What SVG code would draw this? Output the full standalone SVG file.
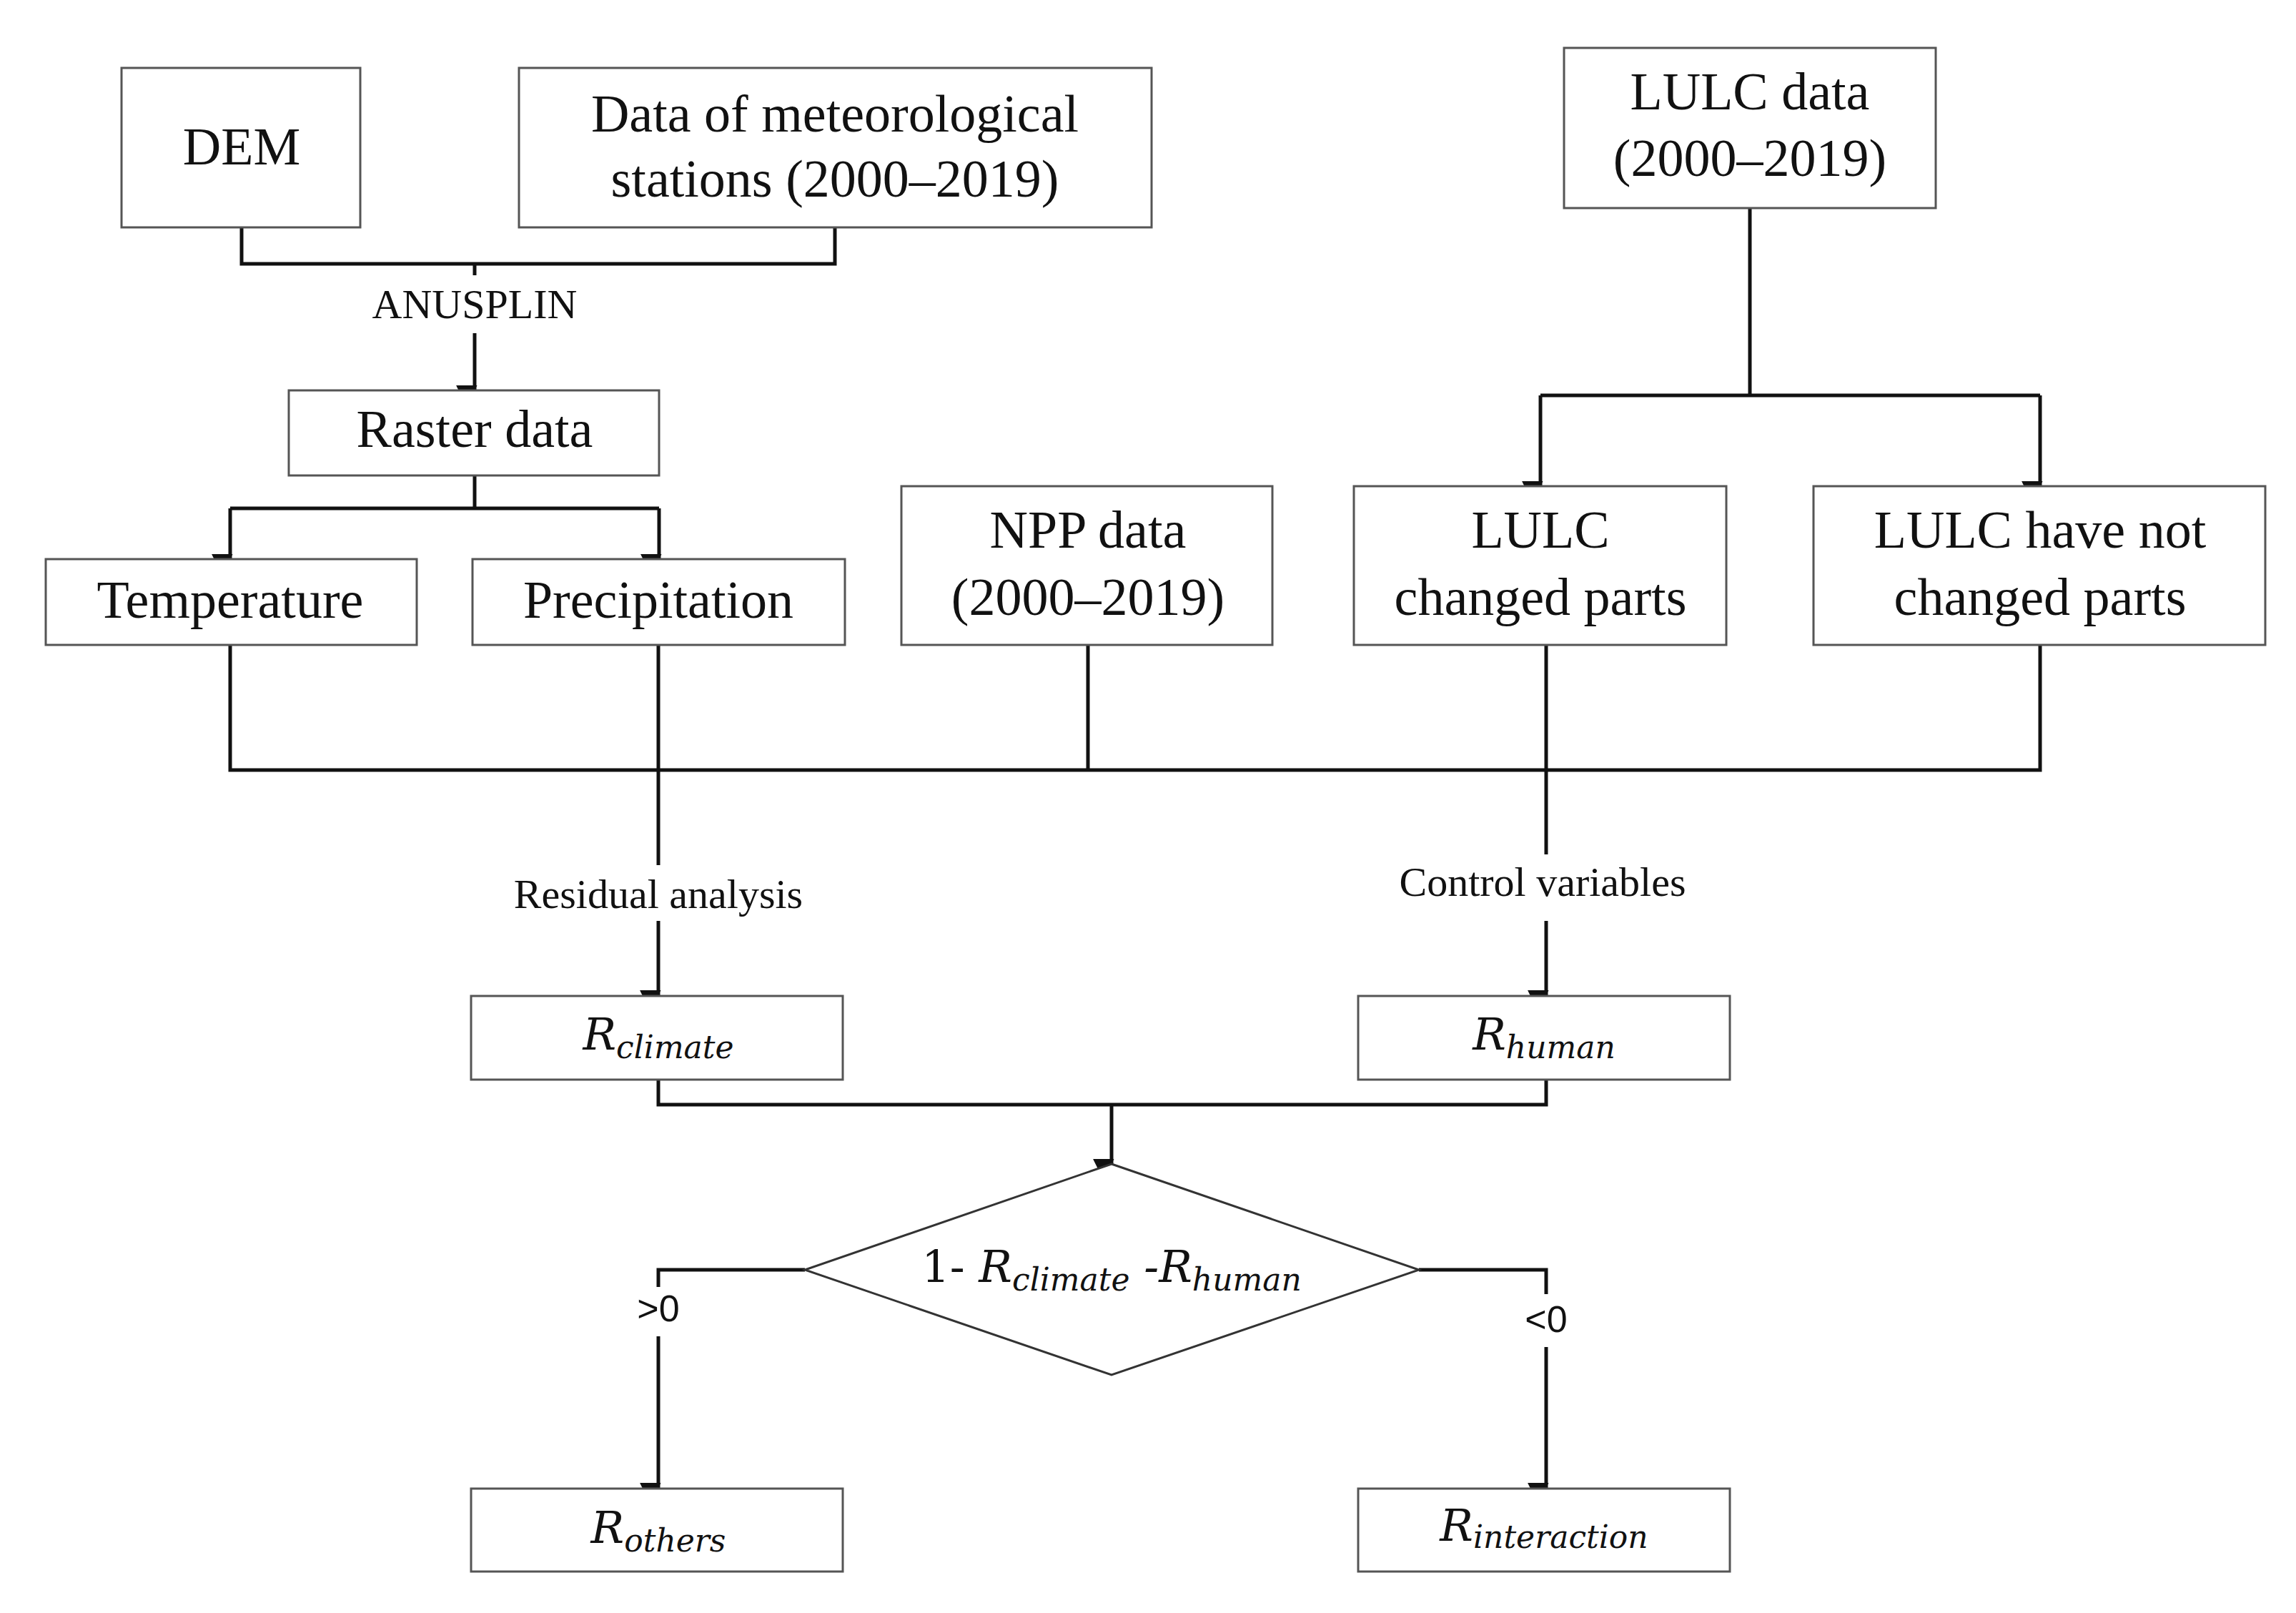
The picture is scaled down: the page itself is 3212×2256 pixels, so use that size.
<svg xmlns="http://www.w3.org/2000/svg" width="3212" height="2256" viewBox="0 0 3212 2256">
<style>
.box{fill:#fff;stroke:#555;stroke-width:3}
.t{font-family:"Liberation Serif",serif;font-size:74px;text-anchor:middle;fill:#111}
.s{font-family:"Liberation Serif",serif;font-size:58px;text-anchor:middle;fill:#111}
.m{font-family:"DejaVu Serif",serif;font-style:italic;font-size:62px;text-anchor:middle;fill:#111}
.sub{font-size:44px}
.c{fill:none;stroke:#111;stroke-width:5}
.g{font-family:"Liberation Sans",sans-serif;font-size:52px;text-anchor:middle;fill:#111}
</style>
<defs><marker id="a" viewBox="0 0 10 10" refX="10" refY="5" markerWidth="7" markerHeight="7" markerUnits="userSpaceOnUse" orient="auto" style="overflow:visible"><path d="M0,0L10,5L0,10z" fill="#111" transform="scale(4.2) translate(-0,-0)"/></marker></defs>
<g id="connectors" class="c">
<path d="M338,318V369H1168V318M664,369V385"/>
<path d="M664,466V546" marker-end="url(#a)"/>
<path d="M664,665V711M322,711H922"/>
<path d="M322,711V782" marker-end="url(#a)"/>
<path d="M922,711V782" marker-end="url(#a)"/>
<path d="M2448,291V553M2155,553H2854"/>
<path d="M2155,553V680" marker-end="url(#a)"/>
<path d="M2854,553V680" marker-end="url(#a)"/>
<path d="M322,902V1077H2854V902M1522,902V1077M921,902V1210M2163,902V1195"/>
<path d="M921,1288V1392" marker-end="url(#a)"/>
<path d="M2163,1288V1392" marker-end="url(#a)"/>
<path d="M921,1510V1545H2163V1510M1555,1545V1628" marker-end="url(#a)"/>
<path d="M1126,1776H921V1800M1985,1776H2163V1810"/>
<path d="M921,1869V2081" marker-end="url(#a)"/>
<path d="M2163,1884V2081" marker-end="url(#a)"/>
</g>
<g id="dem"><rect class="box" x="170" y="95" width="334" height="223"/><text class="t" x="338" y="230">DEM</text></g>
<g id="met"><rect class="box" x="726" y="95" width="885" height="223"/><text class="t" x="1168" y="184">Data of meteorological</text><text class="t" x="1168" y="275">stations (2000–2019)</text></g>
<text class="s" x="664" y="445">ANUSPLIN</text>
<g id="raster"><rect class="box" x="404" y="546" width="518" height="119"/><text class="t" x="664" y="625">Raster data</text></g>
<g id="temp"><rect class="box" x="64" y="782" width="519" height="120"/><text class="t" x="322" y="864">Temperature</text></g>
<g id="precip"><rect class="box" x="661" y="782" width="521" height="120"/><text class="t" x="921" y="864">Precipitation</text></g>
<g id="npp"><rect class="box" x="1261" y="680" width="519" height="222"/><text class="t" x="1522" y="766">NPP data</text><text class="t" x="1522" y="860">(2000–2019)</text></g>
<g id="lulc"><rect class="box" x="2188" y="67" width="520" height="224"/><text class="t" x="2448" y="153">LULC data</text><text class="t" x="2448" y="246">(2000–2019)</text></g>
<g id="changed"><rect class="box" x="1894" y="680" width="521" height="222"/><text class="t" x="2155" y="766">LULC</text><text class="t" x="2155" y="860">changed parts</text></g>
<g id="notchanged"><rect class="box" x="2537" y="680" width="632" height="222"/><text class="t" x="2854" y="766">LULC  have not</text><text class="t" x="2854" y="860">changed parts</text></g>
<text class="s" x="921" y="1270">Residual analysis</text>
<text class="s" x="2158" y="1253">Control variables</text>
<g id="rclimate"><rect class="box" x="659" y="1393" width="520" height="117"/><text class="m" x="921" y="1468">R<tspan class="sub" dy="12">climate</tspan></text></g>
<g id="rhuman"><rect class="box" x="1900" y="1393" width="520" height="117"/><text class="m" x="2160" y="1468">R<tspan class="sub" dy="12">human</tspan></text></g>
<g id="diamond"><path d="M1555,1628L1985,1776L1555,1923L1126,1776Z" fill="#fff" stroke="#333" stroke-width="3"/><text class="m" x="1555" y="1793"><tspan font-style="normal">1- </tspan>R<tspan class="sub" dy="12">climate</tspan><tspan dy="-12"> -R</tspan><tspan class="sub" dy="12">human</tspan></text></g>
<text class="g" x="921" y="1848">&gt;0</text>
<text class="g" x="2163" y="1863">&lt;0</text>
<g id="rothers"><rect class="box" x="659" y="2082" width="520" height="116"/><text class="m" x="921" y="2158">R<tspan class="sub" dy="12">others</tspan></text></g>
<g id="rinter"><rect class="box" x="1900" y="2082" width="520" height="116"/><text class="m" x="2160" y="2155">R<tspan class="sub" dy="10" font-size="40">interaction</tspan></text></g>
</svg>
